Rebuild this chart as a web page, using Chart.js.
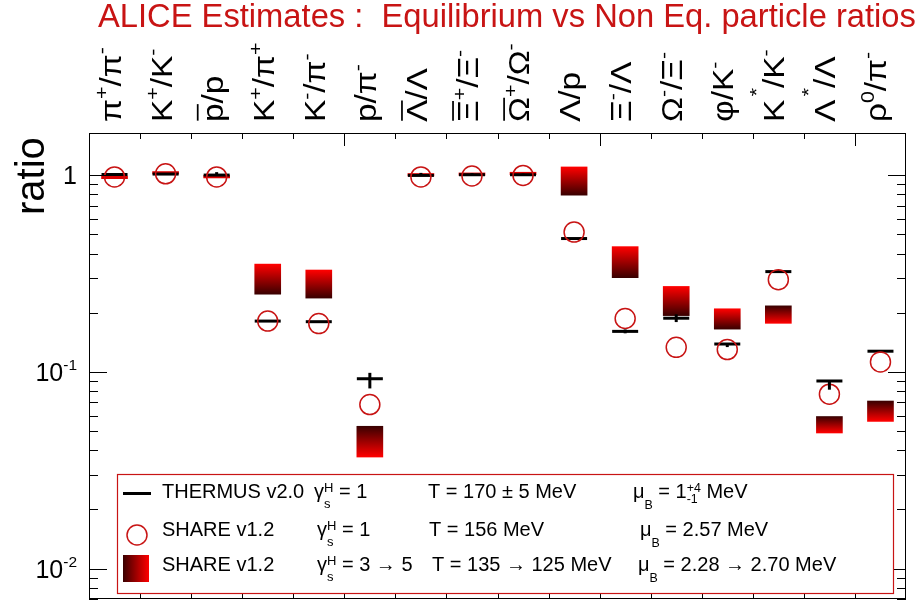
<!DOCTYPE html>
<html><head><meta charset="utf-8">
<script src="https://cdn.jsdelivr.net/npm/chart.js@4/dist/chart.umd.min.js"></script>
<style>html,body{margin:0;padding:0;background:#fff;}#wrap{width:922px;height:615px;position:relative;}</style>
</head><body><div id="wrap"><canvas id="c" width="922" height="615"></canvas></div>
<script>
// ---- data ----
const categories = ['π^{+}/π^{-}','K^{+}/K^{-}','#bar{p}/p','K^{+}/π^{+}','K^{-}/π^{-}','p/π^{-}','#bar{Λ}/Λ','#bar{Ξ}^{+}/Ξ^{-}','#bar{Ω}^{+}/Ω^{-}','Λ/p','Ξ^{-}/Λ','Ω^{-}/Ξ^{-}','φ/K^{-}','K^{*}/K^{-}','Λ^{*}/Λ','ρ^{0}/π^{-}'];
const thermus      = [1.009,1.014,1.002,0.1813,0.180,0.0923,0.998,1.006,1.006,0.4766,0.1607,0.1875,0.1386,0.3236,0.0899,0.1274];
const thermusErrLo = [null,null,null,null,null,0.0824,null,null,null,null,0.1571,0.1792,0.1337,null,0.0812,null];
const thermusErrHi = [null,null,1.037,null,null,0.0989,1.028,1.026,1.02,null,0.1644,0.1962,null,null,null,null];
const shareGamma1  = [0.980,1.017,0.980,0.1813,0.176,0.0682,0.980,0.991,0.998,0.5143,0.1869,0.1333,0.1299,0.2945,0.077,0.1124];
const shareGamma3  = [0.961,1.014,0.969,0.2484,0.2373,0.0529,0.991,0.998,1.006,0.792,0.3013,0.1933,0.165,0.2167,0.0593,0.0711];
const shareGamma5  = [0.961,1.014,0.969,0.3533,0.3296,0.0369,0.991,0.998,1.006,1.102,0.4335,0.272,0.2094,0.1766,0.0489,0.056];
const yTickValues  = [1,0.1,0.01];
const yTickLabels  = ['1','10^{-1}','10^{-2}'];
const titleText    = 'ALICE Estimates :  Equilibrium vs Non Eq. particle ratios';
const yAxisTitle   = 'ratio';
const legendNames  = ['THERMUS v2.0','SHARE v1.2','SHARE v1.2'];
const legendGamma  = ['γ^{H}_{s} = 1','γ^{H}_{s} = 1','γ^{H}_{s} = 3 → 5'];
const legendTemp   = ['T = 170 ± 5 MeV','T = 156 MeV','T = 135 → 125 MeV'];
const legendMuB    = ['μ__{B} = 1^{+4}_{-1} MeV','μ__{B} = 2.57 MeV','μ__{B} = 2.28 → 2.70 MeV'];

const FONT = "'Liberation Sans', Arial, Helvetica, sans-serif";
const RED = '#c81414';
const DARK = '#3a0000', BRIGHT = '#ff0000';

// ---- rich text helper ----
function parseRich(s){
  const segs=[]; let i=0, buf='';
  const flush=()=>{ if(buf){segs.push({t:buf,k:'n'}); buf='';} };
  while(i<s.length){
    const take=(pre,kind)=>{ if(s.startsWith(pre,i)){ flush(); const j=s.indexOf('}',i); segs.push({t:s.slice(i+pre.length,j),k:kind}); i=j+1; return true;} return false; };
    if(take('#bar{','bar')||take('__{','dsub')||take('^{','sup')||take('_{','sub')) continue;
    buf+=s[i]; i++;
  }
  flush(); return segs;
}
function richLayout(ctx,s,size,o){
  o=o||{};
  const segs=parseRich(s); let x=0, prevScript=null; const out=[];
  for(const g of segs){
    const script = g.k==='sup'||g.k==='sub'||g.k==='dsub';
    const fs = script ? size*(o.scriptScale||0.62) : size;
    ctx.font = fs+'px '+FONT;
    const w = ctx.measureText(g.t).width;
    let dy=0, dx=0;
    if(g.k==='sup'){ dy = -size*(o.supDy||0.42); if(g.t==='*'){dy=-size*(o.starDy||0.42); dx=o.starDx||0;} }
    if(g.k==='sub') dy = size*(o.subDy||0.22);
    if(g.k==='dsub') dy = size*0.55;
    let sx=x;
    if(script && prevScript && prevScript.k!==g.k){ sx = prevScript.x; x = prevScript.x + Math.max(prevScript.w,w); }
    else x = sx + w + (dx>0?dx:0);
    out.push({t:g.t,x:sx+dx,dy,fs,w,bar:g.k==='bar'});
    prevScript = script ? {k:g.k,x:sx,w} : null;
  }
  return {segs:out,width:x};
}
function drawRich(ctx,s,x,y,size,align,o){
  const L=richLayout(ctx,s,size,o);
  const x0 = align==='right' ? x-L.width : x;
  for(const g of L.segs){
    ctx.font = g.fs+'px '+FONT;
    ctx.fillText(g.t, x0+g.x, y+g.dy);
    if(g.bar){
      ctx.save(); ctx.lineWidth = Math.max(1.5,size*0.06);
      ctx.beginPath(); const by = y - size*0.86;
      ctx.moveTo(x0+g.x+size*0.04,by); ctx.lineTo(x0+g.x+g.w-size*0.02,by); ctx.stroke(); ctx.restore();
    }
  }
}

// ---- decoration plugin ----
const decor = {
  id:'decor',
  beforeDatasetsDraw(chart){
    const c=chart.ctx, a=chart.chartArea;
    c.save(); c.fillStyle='#fff'; c.fillRect(a.left,a.top,a.right-a.left,a.bottom-a.top); c.restore();
  },
  afterDatasetsDraw(chart){
    const c=chart.ctx, xs=chart.scales.x, ys=chart.scales.y;
    c.save(); c.strokeStyle='#000'; c.lineWidth=3;
    thermus.forEach((v,i)=>{
      const px=xs.getPixelForValue(i);
      const lo=thermusErrLo[i]??v, hi=thermusErrHi[i]??v;
      if(lo===v && hi===v) return;
      c.beginPath(); c.moveTo(px,ys.getPixelForValue(hi)); c.lineTo(px,ys.getPixelForValue(lo)); c.stroke();
    });
    c.restore();
  },
  afterDraw(chart){
    const c=chart.ctx, a=chart.chartArea, xs=chart.scales.x, ys=chart.scales.y;
    c.save();
    c.strokeStyle='#000'; c.lineWidth=1;
    c.strokeRect(a.left+0.5,a.top+0.5,a.right-a.left-1,a.bottom-a.top-1);
    c.beginPath();
    for(let e=-3;e<=0;e++){
      for(let m=1;m<=9;m++){
        const v=m*Math.pow(10,e);
        if(v<ys.min||v>ys.max) continue;
        const py=Math.round(ys.getPixelForValue(v))+0.5;
        const len = m===1?18:9;
        c.moveTo(a.left,py); c.lineTo(a.left+len,py);
        c.moveTo(a.right,py); c.lineTo(a.right-len,py);
      }
    }
    const w = xs.getPixelForValue(1)-xs.getPixelForValue(0);
    for(let i=1;i<categories.length;i++){
      const px=Math.round(xs.getPixelForValue(i)-w/2)+0.5;
      const major = i%5===0;
      c.moveTo(px,a.top); c.lineTo(px,a.top+(major?13:6));
      c.moveTo(px,a.bottom); c.lineTo(px,a.bottom-(major?12:5));
    }
    c.stroke();
    c.fillStyle='#000'; c.textBaseline='alphabetic';
    yTickValues.forEach((v,i)=>{ drawRich(c,yTickLabels[i],77,ys.getPixelForValue(v)+9,25,'right',{supDy:0.42,scriptScale:0.62}); });
    c.save(); c.translate(44,215); c.rotate(-Math.PI/2); c.font='40px '+FONT; c.textAlign='left'; c.fillText(yAxisTitle,0,0); c.restore();
    categories.forEach((lab,i)=>{
      const px=xs.getPixelForValue(i);
      c.save(); c.translate(px+6,122); c.rotate(-Math.PI/2); c.scale(1.15,1);
      drawRich(c,lab,0,0,29,'left',{supDy:0.42,scriptScale:0.64,starDy:0.72,starDx:3});
      c.restore();
    });
    // title fitted between x=98 and x=917
    c.fillStyle=RED; c.font='32px '+FONT; c.textAlign='left';
    const tw=c.measureText(titleText).width; const ts=32*818/tw;
    c.font=ts.toFixed(2)+'px '+FONT; c.fillText(titleText,98,27);
    // legend
    c.fillStyle='#fff'; c.fillRect(117.5,474.5,776,119);
    c.strokeStyle=RED; c.lineWidth=1.2; c.strokeRect(117.5,474.5,776,119);
    c.strokeStyle='#000'; c.lineWidth=3; c.beginPath(); c.moveTo(123,493.5); c.lineTo(151,493.5); c.stroke();
    c.strokeStyle=RED; c.lineWidth=1.5; c.beginPath(); c.arc(137,535,10,0,Math.PI*2); c.stroke();
    const g=c.createLinearGradient(123,0,149,0); g.addColorStop(0,DARK); g.addColorStop(1,BRIGHT);
    c.fillStyle=g; c.fillRect(123,555,26,27);
    c.fillStyle='#000';
    const rows=[498,535.5,571];
    const gx=[314,317,317], tx=[428,429,432], mx=[633,640,638];
    rows.forEach((by,r)=>{
      c.font='20px '+FONT; c.fillText(legendNames[r],162,by);
      drawRich(c,legendGamma[r],gx[r],by,20,'left',{supDy:0.3,subDy:0.5,scriptScale:0.65});
      c.font='20px '+FONT; c.fillText(legendTemp[r],tx[r],by);
      drawRich(c,legendMuB[r],mx[r],by,20,'left',{supDy:0.3,subDy:0.25,scriptScale:0.62});
    });
    c.restore();
  }
};

const ctx=document.getElementById('c').getContext('2d');
new Chart(ctx,{
  type:'bar',
  data:{
    labels:categories,
    datasets:[
      { type:'line', label:'SHARE v1.2 γ=1', data:shareGamma1, showLine:false,
        pointStyle:'circle', pointRadius:10, pointHoverRadius:10, pointBorderWidth:1.5,
        pointBorderColor:RED, pointBackgroundColor:'rgba(0,0,0,0)', borderColor:RED },
      { type:'line', label:'THERMUS v2.0', data:thermus, showLine:false,
        pointStyle:'line', pointRadius:13, pointHoverRadius:13, pointBorderWidth:3,
        pointBorderColor:'#000', borderColor:'#000' },
      { type:'bar', label:'SHARE v1.2 γ=3→5', data:shareGamma3.map((v,i)=>[Math.min(v,shareGamma5[i]),Math.max(v,shareGamma5[i])]),
        barThickness:26, minBarLength:2.5, borderWidth:0,
        backgroundColor:(cx)=>{
          const ch=cx.chart; if(!ch.chartArea||cx.dataIndex==null) return BRIGHT;
          const i=cx.dataIndex, y=ch.scales.y;
          const p3=y.getPixelForValue(shareGamma3[i]), p5=y.getPixelForValue(shareGamma5[i]);
          if(Math.abs(p3-p5)<2) return '#dd0000';
          const gr=ch.ctx.createLinearGradient(0,p3,0,p5); gr.addColorStop(0,DARK); gr.addColorStop(1,BRIGHT); return gr;
        } }
    ]
  },
  options:{
    responsive:false, animation:false, devicePixelRatio:1,
    layout:{padding:{left:89,right:0,top:133,bottom:2}},
    plugins:{legend:{display:false},tooltip:{enabled:false},title:{display:false}},
    scales:{
      x:{type:'category',display:false,offset:true},
      y:{type:'logarithmic',display:false,min:0.007,max:1.64}
    }
  },
  plugins:[decor]
});
</script></body></html>
